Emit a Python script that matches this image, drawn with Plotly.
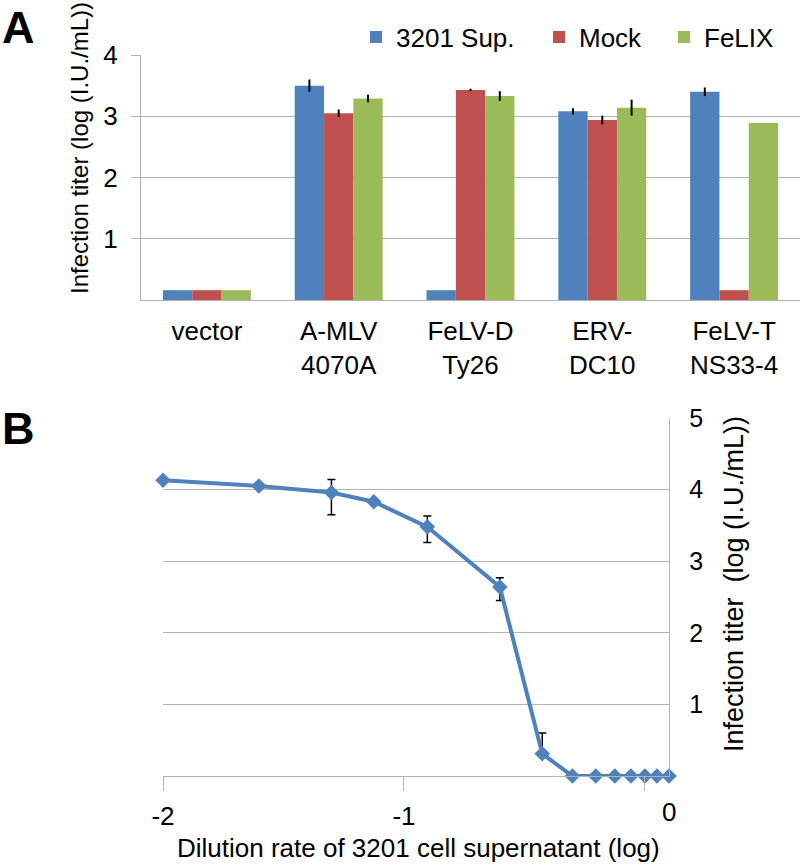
import plotly.graph_objects as go

W, H = 800, 868
FONT = "Liberation Sans, Arial, sans-serif"

# ---------------- Panel A data ----------------
categories = ["vector", "A-MLV<br>4070A", "FeLV-D<br>Ty26", "ERV-<br>DC10", "FeLV-T<br>NS33-4"]
series_names = ["3201 Sup.", "Mock", "FeLIX"]
sup_vals = [0.16, 3.50, 0.16, 3.08, 3.40]
sup_err = [0, 0.10, 0, 0.05, 0.07]
mock_vals = [0.16, 3.05, 3.43, 2.94, 0.16]
mock_err = [0, 0.06, 0.02, 0.07, 0]
felix_vals = [0.16, 3.29, 3.33, 3.14, 2.89]
felix_err = [0, 0.06, 0.08, 0.13, 0]
colors = ["#4F81BD", "#C0504D", "#9BBB59"]

# ---------------- Panel B data ----------------
dilution = [-2, -1.602, -1.301, -1.125, -0.903, -0.602, -0.426, -0.301, -0.204, -0.125, -0.058, 0, 0.05, 0.1]
titer = [4.13, 4.05, 3.96, 3.83, 3.48, 2.64, 0.31, 0, 0, 0, 0, 0, 0, 0]
titer_err_plus = [0.03, 0, 0.18, 0, 0.15, 0.13, 0.29, 0, 0, 0, 0, 0, 0, 0]
titer_err_minus = [0.03, 0, 0.31, 0, 0.22, 0.19, 0, 0, 0, 0, 0, 0, 0, 0]


def px(x):
    return x / W


def py(y):
    return 1 - y / H


GRID = "#B3B3B3"

fig = go.Figure()

legends = ["legend", "legend2", "legend3"]
for name, vals, err, col, lg in zip(series_names, [sup_vals, mock_vals, felix_vals],
                                    [sup_err, mock_err, felix_err], colors, legends):
    fig.add_trace(go.Bar(
        x=categories, y=vals, name=name, marker=dict(color=col, line=dict(width=0)),
        error_y=dict(type="data", array=err, visible=True, color="black", thickness=2, width=0),
        xaxis="x", yaxis="y", legend=lg,
    ))

fig.add_trace(go.Scatter(
    x=dilution, y=titer, mode="lines+markers",
    line=dict(color="#4F81BD", width=4),
    marker=dict(symbol="diamond", size=12, color="#4F81BD"),
    error_y=dict(type="data", symmetric=False, array=titer_err_plus, arrayminus=titer_err_minus,
                 visible=True, color="black", thickness=1.5, width=4),
    xaxis="x2", yaxis="y2", showlegend=False, cliponaxis=False,
))

fig.update_layout(
    width=W, height=H, autosize=False,
    margin=dict(l=0, r=0, t=0, b=0),
    paper_bgcolor="white", plot_bgcolor="white",
    font=dict(family=FONT, color="black", size=26),
    barmode="group", bargap=0.333, bargroupgap=0,
    xaxis=dict(domain=[px(141), 1.0], anchor="y", type="category",
               showline=True, linecolor=GRID, linewidth=1.3, ticks="",
               showgrid=False, tickfont=dict(size=26), automargin=False,
               ticklabelstandoff=8),
    yaxis=dict(domain=[py(300), py(55)], anchor="x", range=[0, 4],
               tickvals=[1, 2, 3, 4], showline=True, linecolor=GRID, linewidth=1.3,
               ticks="outside", ticklen=9, tickcolor=GRID, tickwidth=1.3,
               showgrid=True, gridcolor=GRID, gridwidth=1.3, zeroline=False,
               tickfont=dict(size=26), automargin=False, ticklabelstandoff=8),
    xaxis2=dict(domain=[px(163), px(669)], anchor="y2", range=[-2, 0.1],
                tickvals=[-2, -1, 0], ticktext=["-2", "-1", ""],
                showline=True, linecolor=GRID, linewidth=1.3,
                ticks="outside", ticklen=14, tickcolor=GRID, tickwidth=1.3,
                showgrid=False, zeroline=False, tickfont=dict(size=26),
                automargin=False, ticklabelstandoff=3),
    yaxis2=dict(domain=[py(776), py(418)], anchor="x2", side="right", range=[0, 5],
                tickvals=[1, 2, 3, 4, 5], showline=True, linecolor=GRID, linewidth=1.3,
                ticks="", showgrid=True, gridcolor=GRID, gridwidth=1.3, zeroline=False,
                tickfont=dict(size=25), automargin=False, ticklabelstandoff=14),
)

leg_common = dict(orientation="h", xanchor="left", yanchor="middle", y=py(37),
                  bgcolor="rgba(0,0,0,0)", borderwidth=0, font=dict(size=26, family=FONT))
fig.update_layout(
    legend=dict(x=px(356), **leg_common),
    legend2=dict(x=px(539), **leg_common),
    legend3=dict(x=px(664), **leg_common),
)

annotations = [
    dict(text="<b>A</b>", x=px(0), y=py(27), xref="paper", yref="paper", xanchor="left",
         yanchor="middle", showarrow=False, font=dict(size=45)),
    dict(text="<b>B</b>", x=px(0), y=py(429), xref="paper", yref="paper", xanchor="left",
         yanchor="middle", showarrow=False, font=dict(size=45)),
    dict(text="Infection titer (log (I.U./mL))", x=px(79), y=py(148), xref="paper",
         yref="paper", xanchor="center", yanchor="middle", textangle=-90, showarrow=False,
         font=dict(size=24)),
    dict(text="Infection titer  (log (I.U./mL))", x=px(734), y=py(584), xref="paper",
         yref="paper", xanchor="center", yanchor="middle", textangle=-90, showarrow=False,
         font=dict(size=27)),
    dict(text="Dilution rate of 3201 cell supernatant (log)", x=px(418), y=py(848),
         xref="paper", yref="paper", xanchor="center", yanchor="middle", showarrow=False,
         font=dict(size=26)),
    dict(text="0", x=0.1, y=py(812), xref="x2", yref="paper", xanchor="center",
         yanchor="middle", showarrow=False, font=dict(size=26)),
]
fig.update_layout(annotations=annotations)

fig.write_html("out.html", config={"displayModeBar": False},
               post_script="document.body.style.margin='0';document.body.style.overflow='hidden';")
